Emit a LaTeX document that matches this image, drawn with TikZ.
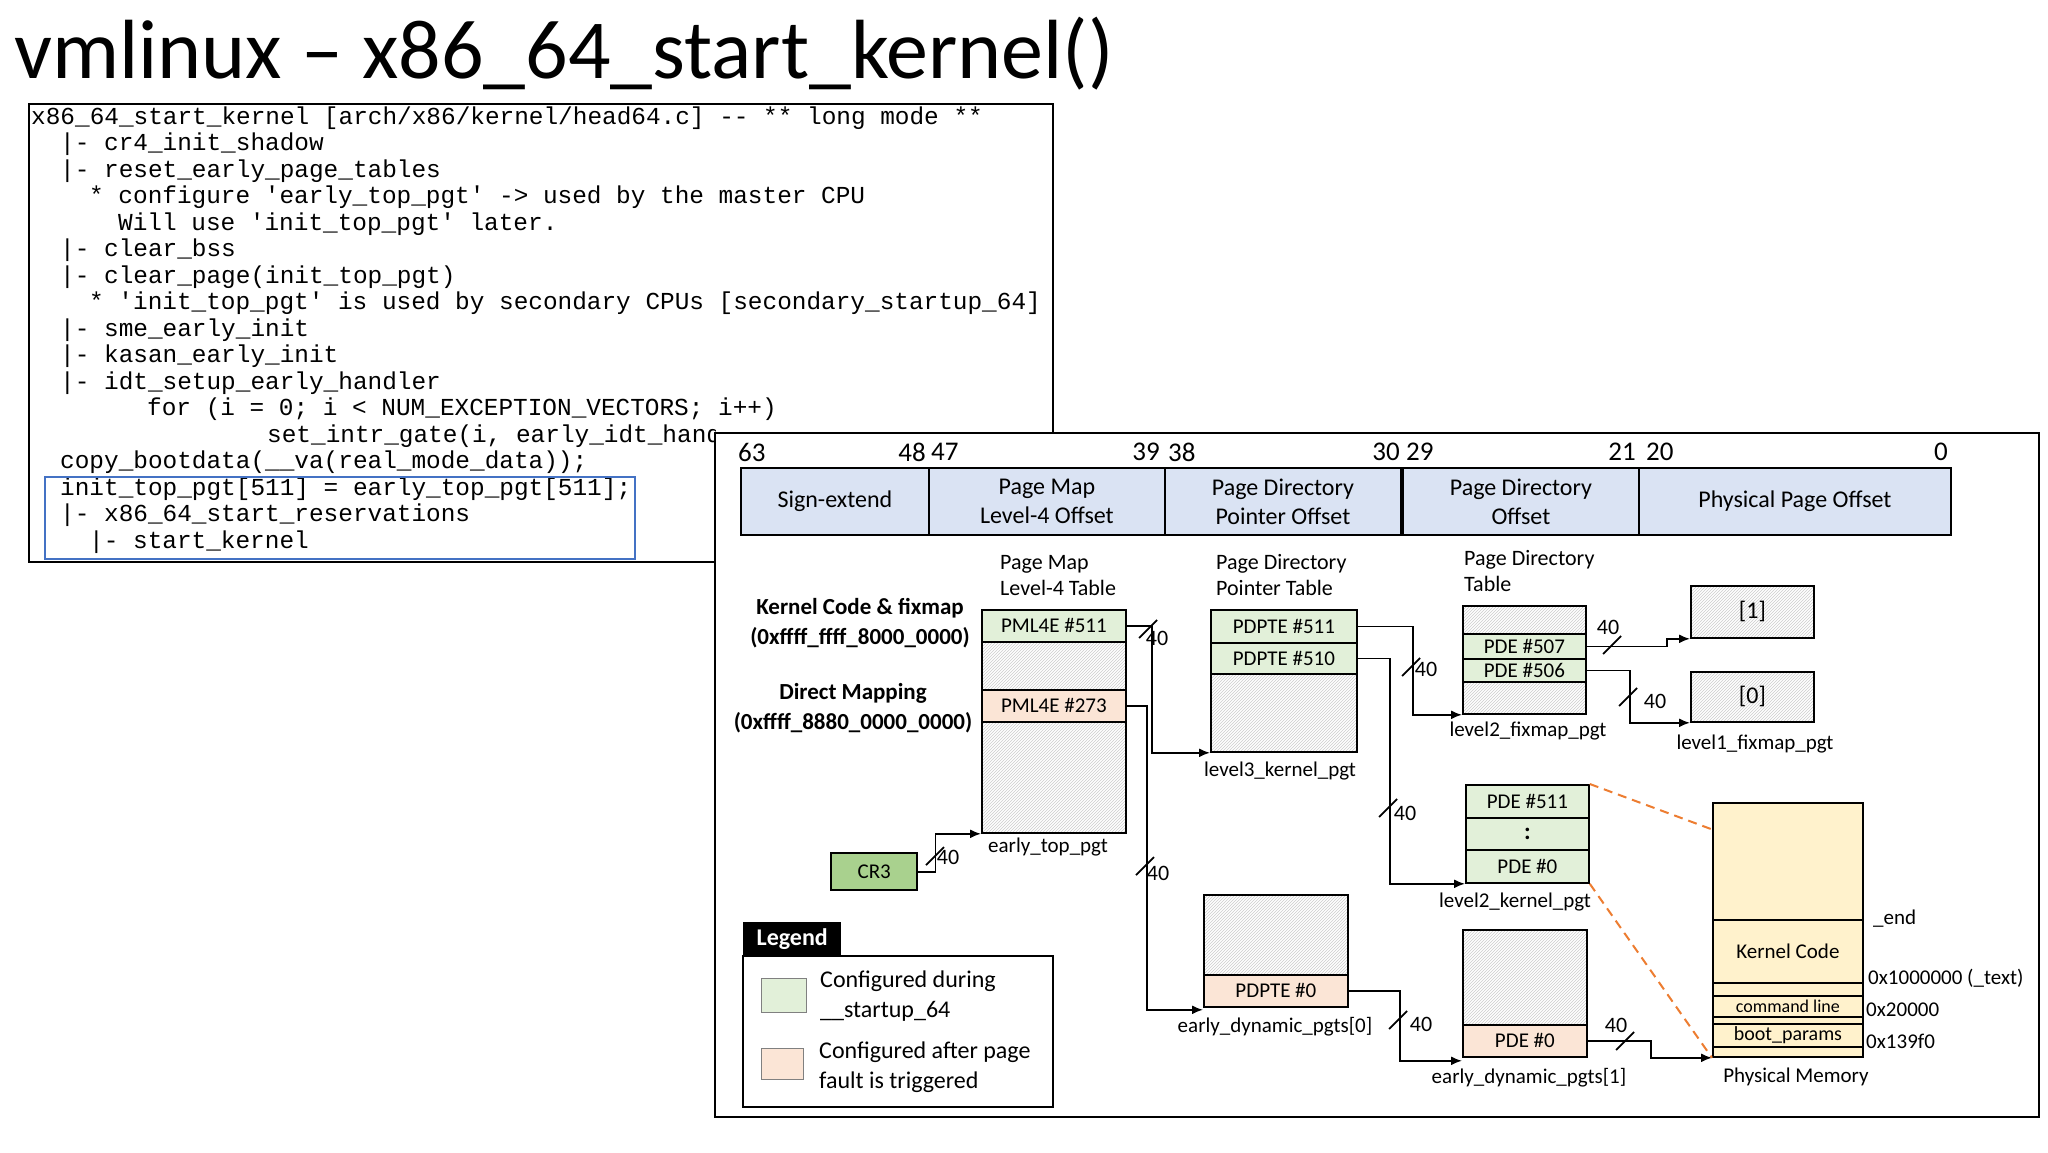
\documentclass[tikz,border=0pt]{standalone}
\usepackage{fontspec}
\setmainfont{Carlito}
\setmonofont{Liberation Mono}
\usetikzlibrary{arrows.meta,patterns}
\newcommand\fs[2]{\fontsize{#1}{#2}\selectfont}
\newcommand\tick[1]{\draw[tk] (#1) ++(-9,9) -- ++(18,-18);}
\definecolor{gfill}{HTML}{E2F0D9}
\definecolor{ofill}{HTML}{FBE5D6}
\definecolor{bfill}{HTML}{DAE3F3}
\definecolor{cr}{HTML}{A9D18E}
\definecolor{pfill}{HTML}{FFF2CC}
\definecolor{blu}{HTML}{4472C4}
\definecolor{org}{HTML}{ED7D31}
\begin{document}
\begin{tikzpicture}[x=1pt,y=-1pt,
 cell/.style={draw, line width=1.8pt, inner sep=0, anchor=north west, font=\fs{21}{25}},
 gc/.style={cell, fill=gfill},
 oc/.style={cell, fill=ofill},
 hc/.style={cell, preaction={fill=white}, pattern=north east lines, pattern color=gray!40},
 pc/.style={cell, fill=pfill},
 bc/.style={cell, fill=bfill, font=\fs{24}{29}, align=center},
 lbl/.style={inner sep=0, font=\fs{21}{25}},
 ttl/.style={inner sep=0, font=\fs{22}{26}, align=left, anchor=west},
 code/.style={inner sep=0, anchor=west, font=\ttfamily\fs{24.4}{26}},
 conn/.style={line width=1.8pt, -{Latex[length=11pt,width=9pt]}},
 tk/.style={line width=1.8pt},
 num/.style={inner sep=0, font=\fs{22}{26}},
 bit/.style={inner sep=0, font=\fs{27}{30}}]
\useasboundingbox (0,0) rectangle (2048,1152);
\fill[white] (0,0) rectangle (2048,1152);
% title
\node[inner sep=0, anchor=base west, font=\fs{84}{94}] (title) at (14,78) {vmlinux – x86\_64\_start\_kernel()};
% code box
\draw[line width=1.6pt] (29,104) rectangle (1053,562);
\node[code] (c1) at (31,118) {x86\_64\_start\_kernel [arch/x86/kernel/head64.c] -- ** long mode **};
\node[code] (c2) at (60,144.5) {|- cr4\_init\_shadow};
\node[code] (c3) at (60,171) {|- reset\_early\_page\_tables};
\node[code] (c4) at (89,197.5) {* configure 'early\_top\_pgt' -> used by the master CPU};
\node[code] (c5) at (118,224) {Will use 'init\_top\_pgt' later.};
\node[code] (c6) at (60,250.5) {|- clear\_bss};
\node[code] (c7) at (60,277) {|- clear\_page(init\_top\_pgt)};
\node[code] (c8) at (89,303.5) {* 'init\_top\_pgt' is used by secondary CPUs [secondary\_startup\_64]};
\node[code] (c9) at (60,330) {|- sme\_early\_init};
\node[code] (c10) at (60,356.5) {|- kasan\_early\_init};
\node[code] (c11) at (60,383) {|- idt\_setup\_early\_handler};
\node[code] (c12) at (147,409.5) {for (i = 0; i < NUM\_EXCEPTION\_VECTORS; i++)};
\begin{scope}
\clip (267,420) rectangle (715,452);
\node[code] (c13) at (267,436) {set\_intr\_gate(i, early\_idt\_handler\_array[i]);};
\end{scope}
\node[code] (c14) at (60,462.5) {copy\_bootdata(\_\_va(real\_mode\_data));};
\node[code] (c15) at (60,489) {init\_top\_pgt[511] = early\_top\_pgt[511];};
\node[code] (c16) at (60,515.5) {|- x86\_64\_start\_reservations};
\node[code] (c17) at (89,542) {|- start\_kernel};
\draw[blu, line width=2pt] (45,477) rectangle (635,559);
% right panel
\draw[line width=1.6pt, fill=white] (715,433) rectangle (2039,1117);
% bit fields
\node[bc, minimum width=188pt, minimum height=67pt] (f1) at (740,467) {Sign-extend};
\node[bc, minimum width=236pt, minimum height=67pt] (f2) at (928,467) {Page Map\\Level-4 Offset};
\node[bc, minimum width=236pt, minimum height=67pt] (f3) at (1164,467) {Page Directory\\Pointer Offset};
\node[bc, minimum width=236pt, minimum height=67pt] (f4) at (1402,467) {Page Directory\\Offset};
\node[bc, minimum width=312pt, minimum height=67pt] (f5) at (1638,467) {Physical Page Offset};
\node[bit, anchor=west] at (738,452) {63};
\node[bit, anchor=east] at (926,452) {48};
\node[bit, anchor=west] at (931,452) {47};
\node[bit, anchor=east] at (1160,452) {39};
\node[bit, anchor=west] at (1168,452) {38};
\node[bit, anchor=east] at (1400,452) {30};
\node[bit, anchor=west] at (1406,452) {29};
\node[bit, anchor=east] at (1636,452) {21};
\node[bit, anchor=west] at (1646,452) {20};
\node[bit, anchor=east] at (1948,452) {0};
% early_top_pgt
\node[ttl] (t1) at (1000,576) {Page Map\\Level-4 Table};
\node[gc, minimum width=144pt, minimum height=32pt] (pml511) at (981,609) {PML4E \#511};
\node[hc, minimum width=144pt, minimum height=48pt] (h1) at (981,641) {};
\node[oc, minimum width=144pt, minimum height=32pt] (pml273) at (981,689) {PML4E \#273};
\node[hc, minimum width=144pt, minimum height=111pt] (h2) at (981,721) {};
\node[lbl] (ltop) at (1048,847) {early\_top\_pgt};
\node[inner sep=0, font=\bfseries\fs{23}{30}, align=center] (kc) at (860,623) {Kernel Code \& fixmap\\(0xffff\_ffff\_8000\_0000)};
\node[inner sep=0, font=\bfseries\fs{23}{30}, align=center] (dm) at (853,708) {Direct Mapping\\(0xffff\_8880\_0000\_0000)};
% CR3
\node[cell, fill=cr, line width=2.4pt, minimum width=86pt, minimum height=37pt, font=\fs{21}{25}] (cr3) at (830,852) {CR3};
% level3
\node[ttl] (t2) at (1216,575) {Page Directory\\Pointer Table};
\node[gc, minimum width=146pt, minimum height=33pt] (p511) at (1210,609) {PDPTE \#511};
\node[gc, minimum width=146pt, minimum height=31pt] (p510) at (1210,642) {PDPTE \#510};
\node[hc, minimum width=146pt, minimum height=78pt] (l3h) at (1210,673) {};
\node[lbl] (l3) at (1280,771) {level3\_kernel\_pgt};
% level2 fixmap
\node[ttl] (t3) at (1464,571) {Page Directory\\Table};
\node[hc, minimum width=123pt, minimum height=28pt] (fh1) at (1462,605) {};
\node[gc, minimum width=123pt, minimum height=25pt] (pde507) at (1462,633) {PDE \#507};
\node[gc, minimum width=123pt, minimum height=23pt] (pde506) at (1462,658) {PDE \#506};
\node[hc, minimum width=123pt, minimum height=32pt] (fh2) at (1462,681) {};
\node[lbl] (l2f) at (1528,731) {level2\_fixmap\_pgt};
\node[hc, minimum width=123pt, minimum height=52pt, font=\fs{24}{28}] (one) at (1690,585) {[1]};
\node[hc, minimum width=123pt, minimum height=50pt, font=\fs{24}{28}] (zero) at (1690,671) {[0]};
\node[lbl] (l1f) at (1755,744) {level1\_fixmap\_pgt};
% level2 kernel
\node[gc, minimum width=123pt, minimum height=33pt] (k511) at (1465,784) {PDE \#511};
\node[gc, minimum width=123pt, minimum height=32pt, font=\bfseries\fs{24}{28}] (kdots) at (1465,817) {:};
\node[gc, minimum width=123pt, minimum height=33pt] (k0) at (1465,849) {PDE \#0};
\node[lbl] (l2k) at (1515,902) {level2\_kernel\_pgt};
% dynamic 0
\node[hc, minimum width=144pt, minimum height=80pt] (dh0) at (1203,894) {};
\node[oc, minimum width=144pt, minimum height=32pt] (d0) at (1203,974) {PDPTE \#0};
\node[lbl] (ld0) at (1275,1027) {early\_dynamic\_pgts[0]};
% dynamic 1
\node[hc, minimum width=124pt, minimum height=95pt] (dh1) at (1462,929) {};
\node[oc, minimum width=124pt, minimum height=32pt] (d1) at (1462,1024) {PDE \#0};
\node[lbl] (ld1) at (1529,1078) {early\_dynamic\_pgts[1]};
% physical memory
\node[pc, minimum width=150pt, minimum height=117pt] (pm1) at (1712,802) {};
\node[pc, minimum width=150pt, minimum height=63pt] (pm2) at (1712,919) {Kernel Code};
\node[pc, minimum width=150pt, minimum height=13pt] (pm3) at (1712,982) {};
\node[pc, minimum width=150pt, minimum height=21pt, font=\fs{18}{20}] (pm4) at (1712,995) {command line};
\node[pc, minimum width=150pt, minimum height=7pt] (pm5) at (1712,1016) {};
\node[pc, minimum width=150pt, minimum height=23pt, font=\fs{20}{22}] (pm6) at (1712,1023) {boot\_params};
\node[pc, minimum width=150pt, minimum height=10pt] (pm7) at (1712,1046) {};
\node[lbl, anchor=west] (e1) at (1873,919) {\_end};
\node[lbl, anchor=west] (e2) at (1868,978) {0x1000000 (\_text)};
\node[lbl, anchor=west] (e3) at (1866,1010) {0x20000};
\node[lbl, anchor=west] (e4) at (1866,1041) {0x139f0};
\node[lbl] (lpm) at (1796,1077) {Physical Memory};
% connectors
\draw[conn] (cr3.east) -- ++(17,0) |- (h2.south west);
\tick{935,856} \node[num] at (948,857) {40};
\draw[conn] (pml511.east) -- ++(25,0) |- (l3h.south west);
\tick{1148,629} \node[num] at (1157,638) {40};
\draw[conn] (pml273.east) -- ++(20,0) |- ([yshift=-2]d0.south west);
\tick{1145,866} \node[num] at (1158,873) {40};
\draw[conn] (p511.east) -- ++(55,0) |- (fh2.south west);
\tick{1411,667} \node[num] at (1426,669) {40};
\draw[conn] (p510.east) -- ++(32,0) |- (k0.south west);
\tick{1388,808} \node[num] at (1405,813) {40};
\draw[conn] (d0.east) -- ++(51,0) |- ([yshift=-3]d1.south west);
\tick{1398,1020} \node[num] at (1421,1024) {40};
\draw[conn] (pde507.east) -- ++(80,0) |- (one.south west);
\tick{1612,645} \node[num] at (1608,627) {40};
\draw[conn] (pde506.east) -- ++(43,0) |- (zero.south west);
\tick{1628,697} \node[num] at (1655,701) {40};
\draw[conn] (d1.east) -- ++(63,0) |- (pm7.south west);
\tick{1625,1041} \node[num] at (1616,1025) {40};
\draw[org, line width=2pt, dash pattern=on 9pt off 6pt] (k511.north east) -- ([yshift=32]pm1.west);
\draw[org, line width=2pt, dash pattern=on 9pt off 6pt] (k0.south east) -- (pm7.south west);
% legend
\node[fill=black, text=white, font=\bfseries\fs{24}{28}, anchor=north west, minimum width=98pt, minimum height=34pt, inner sep=0] (leg) at (743,922) {Legend};
\draw[line width=2.4pt] (743,956) rectangle (1053,1107);
\node[cell, fill=gfill, line width=1.2pt, minimum width=45pt, minimum height=34pt, draw=gray] (sw1) at (761,978) {};
\node[cell, fill=ofill, line width=1.2pt, minimum width=42pt, minimum height=31pt, draw=gray] (sw2) at (761,1048) {};
\node[ttl, font=\fs{24}{30}] (lt1) at (820,996) {Configured during\\\_\_startup\_64};
\node[ttl, font=\fs{24}{30}] (lt2) at (819,1067) {Configured after page\\fault is triggered};
\end{tikzpicture}
\end{document}
